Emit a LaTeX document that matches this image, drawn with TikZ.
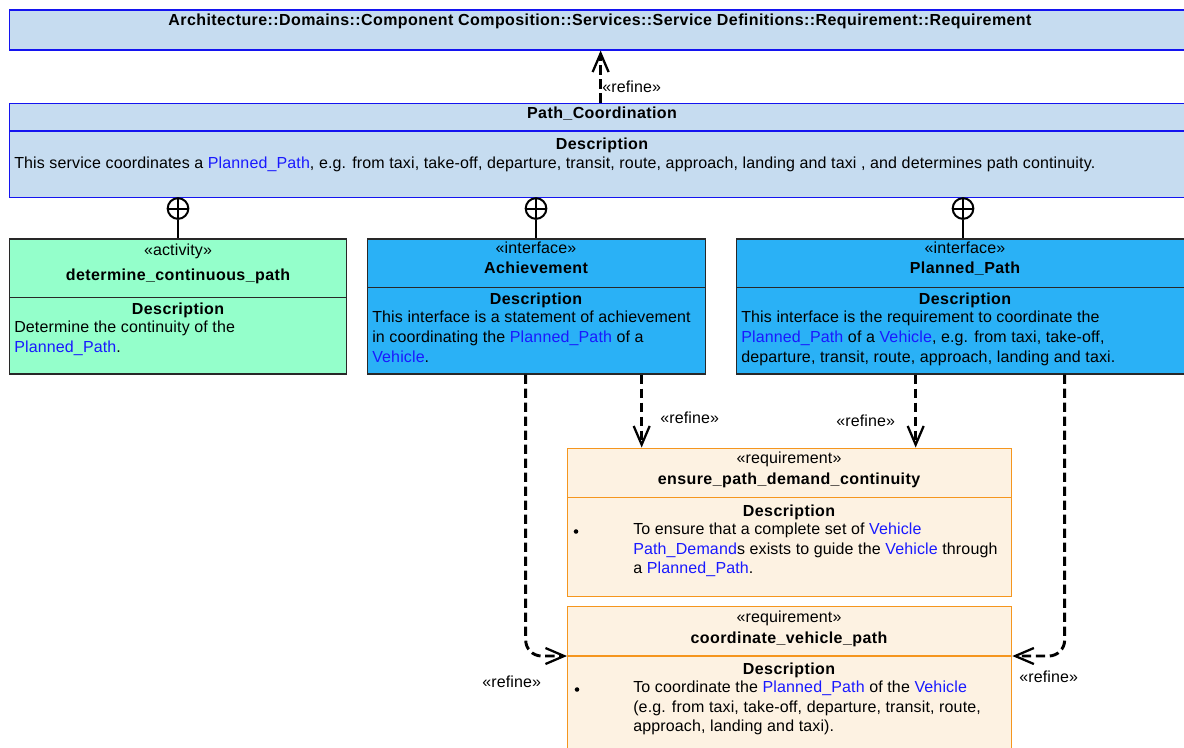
\documentclass[tikz,border=0pt]{standalone}
\usepackage{fontspec}
\setmainfont{Liberation Sans}[LetterSpace=0.9,BoldFeatures={LetterSpace=2.6}]
\usetikzlibrary{arrows.meta,calc}

\definecolor{svcfill}{RGB}{198,220,240}
\definecolor{svcline}{RGB}{20,20,240}
\definecolor{actfill}{RGB}{148,255,203}
\definecolor{ifcfill}{RGB}{42,177,246}
\definecolor{reqfill}{RGB}{253,242,226}
\definecolor{reqline}{RGB}{245,150,30}
\definecolor{boxline}{RGB}{40,40,40}
\definecolor{linkblue}{RGB}{25,25,255}

\newcommand{\lnk}[1]{\textcolor{linkblue}{#1}}

\begin{document}
\begin{tikzpicture}[x=0.75pt,y=-0.75pt,
  every node/.style={font=\fontsize{12}{15}\selectfont},
  svcbox/.style={draw=svcline,fill=svcfill,line width=0.9pt,inner sep=0pt,anchor=north west},
  actbox/.style={draw=boxline,fill=actfill,line width=1pt,inner sep=0pt,anchor=north west},
  ifcbox/.style={draw=boxline,fill=ifcfill,line width=1pt,inner sep=0pt,anchor=north west},
  reqbox/.style={draw=reqline,fill=reqfill,line width=1pt,inner sep=0pt,anchor=north west},
  ctxt/.style={inner sep=0pt,anchor=base},
  ltxt/.style={inner sep=0pt,anchor=base west},
  refine/.style={line width=2.2pt,dash pattern=on 7pt off 3.5pt,
    -{Straight Barb[length=14pt,width=12pt,line width=1.7pt]}},
  nest/.style={circle,draw,line width=1.5pt,minimum size=15.5pt,inner sep=0pt,
    path picture={\draw[line width=1.5pt]
      (path picture bounding box.north) -- (path picture bounding box.south)
      (path picture bounding box.west) -- (path picture bounding box.east);}},
  nestline/.style={line width=1.5pt},
  bulletdot/.style={circle,fill=black,inner sep=0pt,minimum size=3.4pt}]

\useasboundingbox (0,0) rectangle (1184,747);
\clip (0,0) rectangle (1184,747);
\fill[white] (0,0) rectangle (1184,747);

% ---------- service package and service ----------
\node[svcbox,minimum width=886.5pt,minimum height=30pt] (top) at (9,9.3) {};
\node[ctxt] (topT) at (600,25) {\bfseries Architecture::Domains::Component Composition::Services::Service Definitions::Requirement::Requirement};

\node[svcbox,minimum width=886.5pt,minimum height=71pt] (pc) at (9,102.5) {};
\draw[svcline,line width=0.9pt] ($(pc.north west)+(0,28.5)$) -- ($(pc.north east)+(0,28.5)$);
\node[ctxt] (pcT) at (602,118) {\bfseries Path\_Coordination};
\node[ctxt] (pcD) at (602,149) {\bfseries Description};
\node[ltxt] (pcL1) at (14,168) {This service coordinates a \lnk{Planned\_Path}, e.g. from taxi, take-off, departure, transit, route, approach, landing and taxi , and determines path continuity.};

% ---------- activity ----------
\node[actbox,minimum width=252.75pt,minimum height=101.25pt] (act) at (9,238.3) {};
\draw[boxline,line width=1pt] ($(act.north west)+(0,59)$) -- ($(act.north east)+(0,59)$);
\node[ctxt] (actS) at (178,255) {«activity»};
\node[ctxt] (actT) at (178,280) {\bfseries determine\_continuous\_path};
\node[ctxt] (actD) at (178,314) {\bfseries Description};
\node[ltxt] (actL1) at (14,332) {Determine the continuity of the};
\node[ltxt] (actL2) at (14,352) {\lnk{Planned\_Path}.};

% ---------- interface Achievement ----------
\node[ifcbox,minimum width=253.5pt,minimum height=101.25pt] (ach) at (367,238.3) {};
\draw[boxline,line width=1pt] ($(ach.north west)+(0,49)$) -- ($(ach.north east)+(0,49)$);
\node[ctxt] (achS) at (536,253) {«interface»};
\node[ctxt] (achT) at (536,273) {\bfseries Achievement};
\node[ctxt] (achD) at (536,304) {\bfseries Description};
\node[ltxt] (achL1) at (372,322) {This interface is a statement of achievement};
\node[ltxt] (achL2) at (372,342) {in coordinating the \lnk{Planned\_Path} of a};
\node[ltxt] (achL3) at (372,362) {\lnk{Vehicle}.};

% ---------- interface Planned_Path ----------
\node[ifcbox,minimum width=343.5pt,minimum height=101.25pt] (pp) at (736,238.3) {};
\draw[boxline,line width=1pt] ($(pp.north west)+(0,49)$) -- ($(pp.north east)+(0,49)$);
\node[ctxt] (ppS) at (965,253) {«interface»};
\node[ctxt] (ppT) at (965,273) {\bfseries Planned\_Path};
\node[ctxt] (ppD) at (965,304) {\bfseries Description};
\node[ltxt] (ppL1) at (741,322) {This interface is the requirement to coordinate the};
\node[ltxt] (ppL2) at (741,342) {\lnk{Planned\_Path} of a \lnk{Vehicle}, e.g. from taxi, take-off,};
\node[ltxt] (ppL3) at (741,362) {departure, transit, route, approach, landing and taxi.};

% ---------- requirement ensure_path_demand_continuity ----------
\node[reqbox,minimum width=333pt,minimum height=111pt] (req1) at (567,447.5) {};
\draw[reqline,line width=1pt] ($(req1.north west)+(0,50)$) -- ($(req1.north east)+(0,50)$);
\node[ctxt] (r1S) at (789,463) {«requirement»};
\node[ctxt] (r1T) at (789,484) {\bfseries ensure\_path\_demand\_continuity};
\node[ctxt] (r1D) at (789,516) {\bfseries Description};
\node[bulletdot] (r1B) at (576,531.5) {};
\node[ltxt] (r1L1) at (633,534) {To ensure that a complete set of \lnk{Vehicle}};
\node[ltxt] (r1L2) at (633,554) {\lnk{Path\_Demand}s exists to guide the \lnk{Vehicle} through};
\node[ltxt] (r1L3) at (633,573) {a \lnk{Planned\_Path}.};

% ---------- requirement coordinate_vehicle_path ----------
\node[reqbox,minimum width=333pt,minimum height=130pt] (req2) at (567,605.5) {};
\draw[reqline,line width=1pt] ($(req2.north west)+(0,50.5)$) -- ($(req2.north east)+(0,50.5)$);
\node[ctxt] (r2S) at (789,622) {«requirement»};
\node[ctxt] (r2T) at (789,643) {\bfseries coordinate\_vehicle\_path};
\node[ctxt] (r2D) at (789,674) {\bfseries Description};
\node[bulletdot] (r2B) at (577,689.5) {};
\node[ltxt] (r2L1) at (633,692) {To coordinate the \lnk{Planned\_Path} of the \lnk{Vehicle}};
\node[ltxt] (r2L2) at (633,712) {(e.g. from taxi, take-off, departure, transit, route,};
\node[ltxt] (r2L3) at (633,731) {approach, landing and taxi).};

% ---------- nesting (containment) connectors ----------
\node[nest] (n1) at (178,208.5) {};
\node[nest] (n2) at (536,208.5) {};
\node[nest] (n3) at (963,208.5) {};
\draw[nestline] (n1.south) -- (n1.south |- act.north);
\draw[nestline] (n2.south) -- (n2.south |- ach.north);
\draw[nestline] (n3.south) -- (n3.south |- pp.north);

% ---------- refine dependencies ----------
\draw[refine] (pc.north) -- (top.south);
\node[ltxt] (lb0) at (602,92) {«refine»};

\draw[refine] ($(ach.south)+(105,0)$) -- ($(req1.north)+(-148,0)$);
\node[ltxt] (lb1) at (660,423) {«refine»};

\draw[refine] ($(pp.south)+(-50,0)$) -- ($(req1.north)+(126,0)$);
\node[ltxt] (lb2) at (836,426) {«refine»};

\draw[refine,rounded corners=12pt] ($(ach.south)+(-11,0)$) |- ($(req2.north west)+(0,50.5)$);
\node[ltxt] (lb3) at (482,687) {«refine»};

\draw[refine,rounded corners=12pt] ($(pp.south)+(99,0)$) |- ($(req2.north east)+(0,50.5)$);
\node[ltxt] (lb4) at (1019,682) {«refine»};

\end{tikzpicture}
\end{document}
